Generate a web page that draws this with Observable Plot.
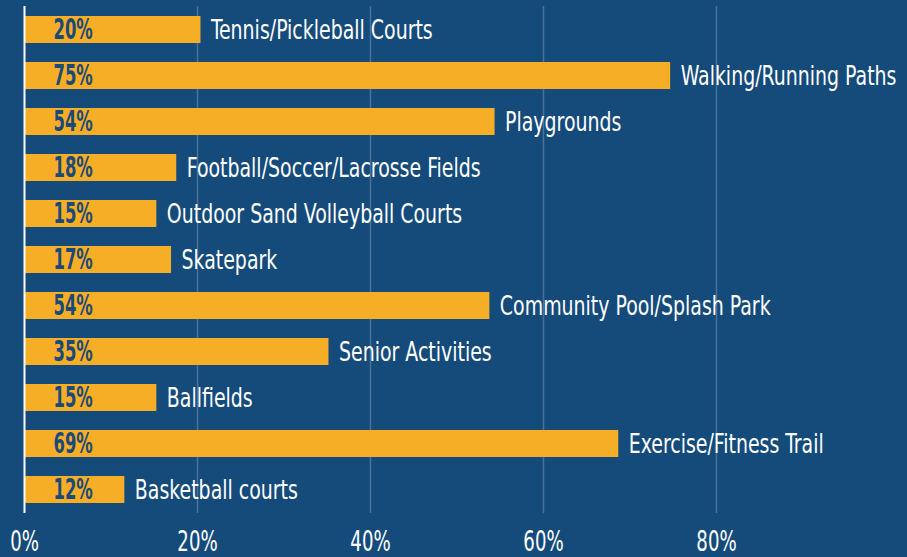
<!DOCTYPE html>
<html>
<head>
<meta charset="utf-8">
<script src="https://cdn.jsdelivr.net/npm/d3@7"></script>
<script src="https://cdn.jsdelivr.net/npm/@observablehq/plot@0.6"></script>
<style>
  html, body { margin: 0; padding: 0; background: #154b7a; }
  #chart { width: 907px; height: 557px; }
</style>
</head>
<body>
<div id="chart"></div>
<script>
const categories = [
  "Tennis/Pickleball Courts",
  "Walking/Running Paths",
  "Playgrounds",
  "Football/Soccer/Lacrosse Fields",
  "Outdoor Sand Volleyball Courts",
  "Skatepark",
  "Community Pool/Splash Park",
  "Senior Activities",
  "Ballfields",
  "Exercise/Fitness Trail",
  "Basketball courts"
];
const values = [20.4, 74.7, 54.4, 17.6, 15.3, 17.0, 53.8, 35.2, 15.3, 68.7, 11.6];
const valueLabels = ["20%", "75%", "54%", "18%", "15%", "17%", "54%", "35%", "15%", "69%", "12%"];
const xTicks = [0, 20, 40, 60, 80];
const gridTicks = [20, 40, 60, 80];

const data = categories.map((c, i) => ({category: c, value: values[i], label: valueLabels[i]}));

const font = "'Liberation Sans Narrow', 'DejaVu Sans Condensed', sans-serif";

const chart = Plot.plot({
  width: 907,
  height: 557,
  marginTop: 6,
  marginBottom: 44,
  marginLeft: 24,
  marginRight: 18,
  style: {background: "#154b7a", color: "#ffffff", fontFamily: font, overflow: "visible"},
  x: {domain: [0, 100], label: null},
  y: {domain: categories, paddingInner: 0.414, paddingOuter: 0.21, axis: null, label: null},
  marks: [
    Plot.gridX(gridTicks, {stroke: "#4a719c", strokeOpacity: 1, strokeWidth: 1.5}),
    Plot.barX(data, {x: "value", y: "category", fill: "#f7ae27"}),
    Plot.ruleX([0], {stroke: "#ffffff", strokeWidth: 2}),
    Plot.text(data, {x: 0, y: "category", text: "label", textAnchor: "start", dx: 29, fill: "#1b4a79", fontWeight: "bold", fontSize: 29, fontFamily: font}),
    Plot.text(data, {x: "value", y: "category", text: "category", textAnchor: "start", dx: 10, fill: "#ffffff", fontSize: 27, fontFamily: font}),
    Plot.axisX({ticks: xTicks, tickFormat: d => d + "%", tickSize: 0, tickPadding: 18, fontSize: 28, fill: "#ffffff", fontFamily: font, label: null})
  ]
});

// Condense glyphs horizontally to mimic the narrow typeface of the original
const squeeze = {"29": 0.63, "27": 0.78, "28": 0.72};
chart.querySelectorAll("g[font-size]").forEach(g => {
  const s = squeeze[g.getAttribute("font-size")];
  if (!s) return;
  g.querySelectorAll("text").forEach(t => {
    const tr = t.getAttribute("transform") || "";
    t.setAttribute("transform", tr + ` scale(${s},1)`);
  });
});
document.getElementById("chart").appendChild(chart);
</script>
</body>
</html>
